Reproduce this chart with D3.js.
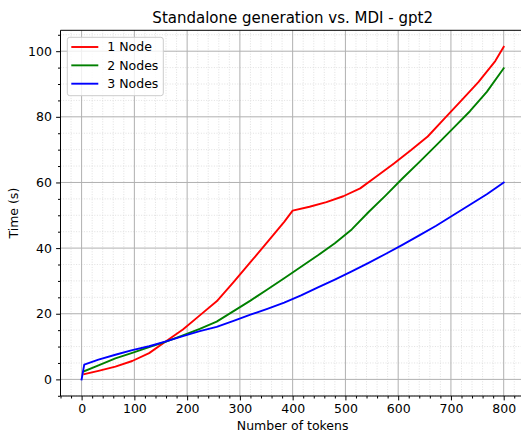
<!DOCTYPE html>
<html>
<head>
<meta charset="utf-8">
<script src="https://cdn.jsdelivr.net/npm/d3@7"></script>
<style>
  body { margin: 0; background: #fff; }
  svg { font-family: 'DejaVu Sans', sans-serif; }
</style>
</head>
<body>
<div id="chart"></div>
<script>
const tokens = [5, 32, 64, 96, 128, 160, 192, 224, 256, 288, 320, 352, 384, 400, 432, 464, 496, 528, 560, 592, 624, 656, 688, 720, 752, 784, 800];
const oneNode = [1.6, 2.6, 3.9, 5.6, 8.0, 11.6, 15.2, 19.5, 23.8, 29.6, 35.7, 41.8, 48.0, 51.4, 52.6, 54.0, 55.8, 58.2, 62.0, 65.8, 69.8, 74.0, 79.5, 85.0, 90.6, 97.0, 101.3];

const tokens2 = [5, 32, 64, 96, 128, 160, 192, 224, 256, 288, 320, 352, 384, 416, 448, 480, 512, 544, 576, 608, 640, 672, 704, 736, 768, 800];
const twoNodes = [2.5, 4.3, 6.4, 8.1, 9.8, 11.5, 13.4, 15.4, 17.6, 20.8, 24.0, 27.4, 30.8, 34.3, 37.8, 41.5, 45.7, 51.0, 56.0, 61.2, 66.2, 71.3, 76.5, 81.7, 87.6, 94.8];

const tokens3 = [0, 5, 32, 64, 96, 128, 160, 192, 224, 256, 288, 320, 352, 384, 416, 448, 480, 512, 544, 576, 608, 640, 672, 704, 736, 768, 800];
const threeNodes = [0, 4.5, 6.0, 7.5, 8.9, 10.1, 11.6, 13.2, 14.7, 16.0, 17.8, 19.7, 21.5, 23.4, 25.6, 28.0, 30.4, 32.9, 35.5, 38.2, 41.0, 43.9, 46.8, 50.0, 53.2, 56.4, 60.0];

const seriesNames = ['1 Node', '2 Nodes', '3 Nodes'];
const seriesColors = ['#ff0000', '#008000', '#0000ff'];

const series = [
  {name: seriesNames[0], color: seriesColors[0], values: tokens.map((t, i) => ({t: t, v: oneNode[i]}))},
  {name: seriesNames[1], color: seriesColors[1], values: tokens2.map((t, i) => ({t: t, v: twoNodes[i]}))},
  {name: seriesNames[2], color: seriesColors[2], values: tokens3.map((t, i) => ({t: t, v: threeNodes[i]}))},
];

const width = 521;
const height = 434;
const plot = {left: 60.5, right: 524.8, top: 30.3, bottom: 396};
const fontSize = 12.5;

const allVals = series.flatMap((s) => s.values);
const tMax = d3.max(allVals, (d) => d.t);
const vMax = d3.max(allVals, (d) => d.v);
const tPad = tMax * 0.05;
const vPad = vMax * 0.05;

const xScale = d3.scaleLinear()
    .domain([-tPad, tMax + tPad])
    .range([plot.left, plot.right]);
const yScale = d3.scaleLinear()
    .domain([-vPad, vMax + vPad])
    .range([plot.bottom, plot.top]);

const svg = d3.select('#chart')
    .append('svg')
    .attr('width', width)
    .attr('height', height);

svg.append('rect').attr('width', width).attr('height', height).attr('fill', '#fff');

// grid, minor first so major sits on top
const xMinor = d3.range(-40, 841, 20).filter((d) => d % 100 !== 0);
const yMinor = d3.range(-5, 107, 5).filter((d) => d % 20 !== 0);
const xMajor = d3.range(0, 801, 100);
const yMajor = d3.range(0, 101, 20);

const grid = svg.append('g');
grid.selectAll('.xminor').data(xMinor).enter().append('line')
    .attr('x1', (d) => xScale(d)).attr('x2', (d) => xScale(d))
    .attr('y1', plot.top).attr('y2', plot.bottom)
    .attr('stroke', '#dcdcdc').attr('stroke-width', 0.9).attr('stroke-dasharray', '1,1.6');
grid.selectAll('.yminor').data(yMinor).enter().append('line')
    .attr('x1', plot.left).attr('x2', plot.right)
    .attr('y1', (d) => yScale(d)).attr('y2', (d) => yScale(d))
    .attr('stroke', '#dcdcdc').attr('stroke-width', 0.9).attr('stroke-dasharray', '1,1.6');
grid.selectAll('.xmajor').data(xMajor).enter().append('line')
    .attr('x1', (d) => xScale(d)).attr('x2', (d) => xScale(d))
    .attr('y1', plot.top).attr('y2', plot.bottom)
    .attr('stroke', '#b0b0b0').attr('stroke-width', 1);
grid.selectAll('.ymajor').data(yMajor).enter().append('line')
    .attr('x1', plot.left).attr('x2', plot.right)
    .attr('y1', (d) => yScale(d)).attr('y2', (d) => yScale(d))
    .attr('stroke', '#b0b0b0').attr('stroke-width', 1);

// lines
const line = d3.line()
    .x((d) => xScale(d.t))
    .y((d) => yScale(d.v));

svg.append('clipPath').attr('id', 'clip')
    .append('rect')
    .attr('x', plot.left).attr('y', plot.top)
    .attr('width', plot.right - plot.left).attr('height', plot.bottom - plot.top);

svg.append('g').attr('clip-path', 'url(#clip)')
    .selectAll('path')
    .data(series)
    .enter()
    .append('path')
    .attr('fill', 'none')
    .attr('stroke', (d) => d.color)
    .attr('stroke-width', 1.9)
    .attr('stroke-linejoin', 'round')
    .attr('stroke-linecap', 'square')
    .attr('d', (d) => line(d.values));

// axes
const xAxis = svg.append('g')
    .attr('transform', `translate(0, ${plot.bottom})`)
    .call(d3.axisBottom(xScale).tickValues(xMajor).tickSize(4.4).tickPadding(4).tickSizeOuter(0));
svg.append('g')
    .attr('transform', `translate(0, ${plot.bottom})`)
    .call(d3.axisBottom(xScale).tickValues(xMinor).tickSize(2.5).tickFormat('').tickSizeOuter(0));
const yAxis = svg.append('g')
    .attr('transform', `translate(${plot.left}, 0)`)
    .call(d3.axisLeft(yScale).tickValues(yMajor).tickSize(4.4).tickPadding(4.2).tickSizeOuter(0));
svg.append('g')
    .attr('transform', `translate(${plot.left}, 0)`)
    .call(d3.axisLeft(yScale).tickValues(yMinor).tickSize(2.5).tickFormat('').tickSizeOuter(0));

svg.selectAll('.domain').remove();
svg.selectAll('.tick line').attr('stroke', '#000').attr('stroke-width', 1);
xAxis.selectAll('text').attr('font-size', fontSize).attr('fill', '#000').attr('font-family', 'DejaVu Sans');
yAxis.selectAll('text').attr('font-size', fontSize).attr('fill', '#000').attr('font-family', 'DejaVu Sans');

// spines (right one falls outside the picture)
svg.append('line').attr('x1', plot.left).attr('x2', plot.left)
    .attr('y1', plot.top).attr('y2', plot.bottom)
    .attr('stroke', '#000').attr('stroke-width', 1);
svg.append('line').attr('x1', plot.left).attr('x2', plot.right)
    .attr('y1', plot.bottom).attr('y2', plot.bottom)
    .attr('stroke', '#000').attr('stroke-width', 1);
svg.append('line').attr('x1', plot.left).attr('x2', plot.right)
    .attr('y1', plot.top).attr('y2', plot.top)
    .attr('stroke', '#000').attr('stroke-width', 1);

// title + labels
const midX = (plot.left + plot.right) / 2;
svg.append('text')
    .attr('x', midX).attr('y', 23)
    .attr('text-anchor', 'middle')
    .attr('font-size', 15)
    .text('Standalone generation vs. MDI - gpt2');
svg.append('text')
    .attr('x', midX).attr('y', 430)
    .attr('text-anchor', 'middle')
    .attr('font-size', fontSize)
    .text('Number of tokens');
svg.append('text')
    .attr('transform', `translate(18, ${(plot.top + plot.bottom) / 2}) rotate(-90)`)
    .attr('text-anchor', 'middle')
    .attr('font-size', fontSize)
    .text('Time (s)');

// legend
const legend = svg.append('g').attr('transform', 'translate(67.3, 37.3)');
legend.append('rect')
    .attr('width', 96).attr('height', 58.4)
    .attr('rx', 2.5)
    .attr('fill', '#fff').attr('fill-opacity', 0.8)
    .attr('stroke', '#cccccc').attr('stroke-width', 1);
const entry = legend.selectAll('.entry')
    .data(series)
    .enter()
    .append('g')
    .attr('transform', (d, i) => `translate(0, ${9.7 + i * 18.35})`);
entry.append('line')
    .attr('x1', 4).attr('x2', 31)
    .attr('stroke', (d) => d.color)
    .attr('stroke-width', 1.9);
entry.append('text')
    .attr('x', 40).attr('y', 4.4)
    .attr('font-size', fontSize)
    .text((d) => d.name);
</script>
</body>
</html>
